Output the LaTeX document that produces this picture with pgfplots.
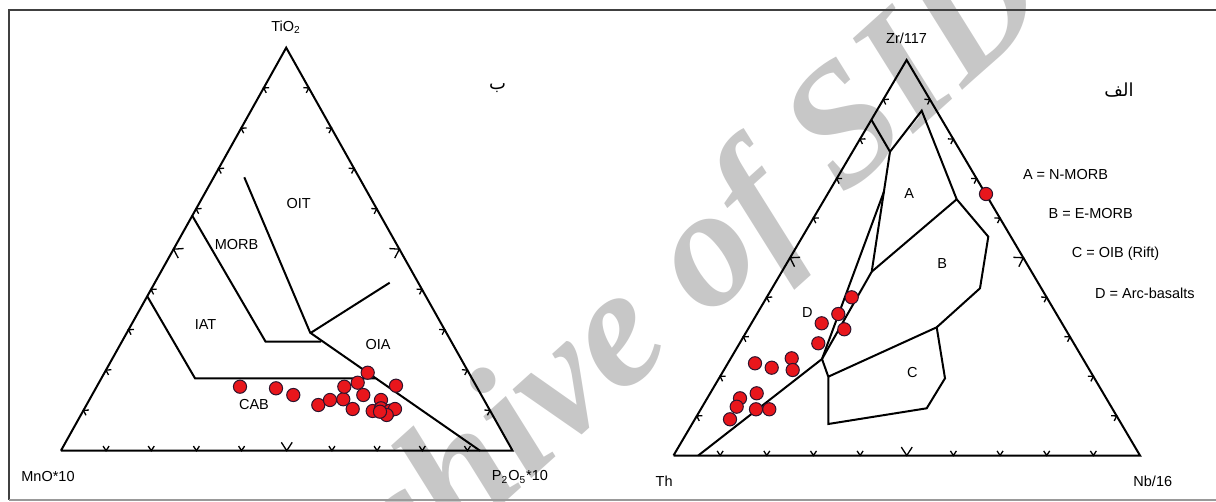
\documentclass[border=0pt]{standalone}
\usepackage{pgfplots}
\pgfplotsset{compat=1.18}
\usepackage{fontspec}
\setmainfont{Liberation Sans}
\newfontfamily\arabicfont[Script=Arabic]{DejaVu Sans}
\newfontfamily\wmfont{Liberation Serif}
\TeXXeTstate=1
\definecolor{ptred}{RGB}{232,22,28}
\definecolor{ptedge}{RGB}{45,20,45}
\begin{document}
\begin{tikzpicture}
% watermark (behind everything)
\begin{scope}[x=0.5pt,y=-0.5pt,shift={(0pt,251pt)}]
\node[overlay, rotate=42, text=black!22, font=\wmfont\bfseries\itshape\fontsize{85}{85}\selectfont] at (634,330) {Archive of SID};
\end{scope}
\begin{axis}[scale only axis, width=608pt, height=251pt,
  xmin=0, xmax=1216, ymin=0, ymax=502, y dir=reverse,
  hide axis, clip=false,
  fl/.style={black, solid, line width=1pt, mark=none},
  pts/.style={only marks, mark=*, mark size=3.3pt, mark options={fill=ptred, draw=ptedge, solid, line width=0.5pt}},
  nodes={font=\fontsize{7.25}{8.7}\selectfont, inner sep=0pt}]
\addplot[draw=none, forget plot] coordinates {(0,0) (1216,502)};
% frame
\addplot[black!75, solid, line width=1pt, mark=none] coordinates {(1216,10) (8.5,10) (8.5,500)};
\addplot[black!40, solid, line width=1pt, mark=none] coordinates {(8.5,500) (1216,500)};
% ---------- left ternary: TiO2 - MnO*10 - P2O5*10 ----------
\addplot[fl] coordinates {(60.9,450.7) (512.6,450.7) (286.2,47.7) (60.9,450.7)};
\addplot[fl] coordinates {(244.3,177.3) (310.2,332.7) (480,450.7)};
\addplot[fl] coordinates {(311,332.7) (389.7,282.7)};
\addplot[fl] coordinates {(192.4,216) (265.6,341.7) (321,341.7)};
\addplot[fl] coordinates {(147.5,296.7) (195,378.3) (375.5,378.3)};
\addplot[pts] coordinates {
(240,386.7) (276,388.3) (293.3,395) (318.3,405) (330,400) (343.3,399.3)
(344.3,386.7) (357.7,382.7) (367.7,372.7) (363.3,395) (352.7,409)
(396,385.7) (381,400) (372.7,411) (381,408.3) (390,410.7) (395,409)
(386.7,415) (380,411.7)};
\node at (axis cs:286,27) {TiO\textsubscript{2}};
\node at (axis cs:48,477) {MnO*10};
\node at (axis cs:520,477) {P\textsubscript{2}O\textsubscript{5}*10};
\node at (axis cs:298.6,203.3) {OIT};
\node at (axis cs:236.5,245) {MORB};
\node at (axis cs:205.5,325) {IAT};
\node at (axis cs:378,345) {OIA};
\node at (axis cs:254,405) {CAB};
\node[font=\arabicfont\fontsize{9}{10}\selectfont] at (axis cs:497.5,88) {\beginR ب\endR};
% ---------- right ternary: Zr/117 - Th - Nb/16 ----------
\addplot[fl] coordinates {(673.5,455.5) (1140,455.5) (906.6,60) (673.5,455.5)};
\addplot[fl] coordinates {(871.5,120) (890,151.7) (921.7,110.7) (956.7,199.3) (988.3,236.7) (980,288.3) (936.7,327.3)};
\addplot[fl] coordinates {(890,151.7) (871.7,271.7) (822,359)};
\addplot[fl] coordinates {(884.2,191) (822,359)};
\addplot[fl] coordinates {(822,359) (698.3,455.5)};
\addplot[fl] coordinates {(956.7,199.3) (871.7,271.7)};
\addplot[fl] coordinates {(822,359) (828.3,376.7) (828.3,424) (926.7,408.3) (945,378.3) (936.7,327.3) (828.3,376.7)};
\addplot[pts] coordinates {
(851.7,297.3) (838.3,314) (821.7,323.3) (844.3,329.3) (818.3,343.3)
(755,363.3) (771.7,367.7) (791.7,358.3) (792.7,370)
(756.7,393.3) (740,398.3) (736.7,406.7) (756,409.3) (769.3,409.3) (730,419.3)
(986,194)};
\node at (axis cs:906.6,38.3) {Zr/117};
\node at (axis cs:664.2,481.7) {Th};
\node at (axis cs:1152.8,481.7) {Nb/16};
\node at (axis cs:909.3,193.3) {A};
\node at (axis cs:942.3,264) {B};
\node at (axis cs:912.3,372.3) {C};
\node at (axis cs:807.3,312.3) {D};
\node at (axis cs:1065.5,175) {A = N-MORB};
\node at (axis cs:1090.7,213.3) {B = E-MORB};
\node at (axis cs:1115.5,254) {C = OIB (Rift)};
\node at (axis cs:1145,293.3) {D = Arc-basalts};
\node[font=\arabicfont\fontsize{9}{10}\selectfont] at (axis cs:1119,90) {\beginR الف\endR};
\end{axis}
% ternary tick chevrons
\begin{scope}[x=0.5pt,y=-0.5pt,shift={(0pt,251pt)}, line width=0.65pt]
\foreach \ax/\ay/\bx/\by in {60.9/450.7/512.6/450.7, 512.6/450.7/286.2/47.7, 286.2/47.7/60.9/450.7,
  673.5/455.5/1140/455.5, 1140/455.5/906.6/60, 906.6/60/673.5/455.5}{
  \pgfmathsetmacro\ux{(\bx-\ax)/veclen(\bx-\ax,\by-\ay)}
  \pgfmathsetmacro\uy{(\by-\ay)/veclen(\bx-\ax,\by-\ay)}
  \foreach \t in {1,...,9}{
    \pgfmathsetmacro\px{\ax+\t*(\bx-\ax)/10}
    \pgfmathsetmacro\py{\ay+\t*(\by-\ay)/10}
    \pgfmathsetmacro\s{\t==5 ? 10 : 5.5}
    \draw ({\px+\s*(0.839*\uy+0.545*\ux)},{\py+\s*(0.545*\uy-0.839*\ux)}) -- (\px,\py)
      -- ({\px+\s*(0.839*\uy-0.545*\ux)},{\py-\s*(0.839*\ux+0.545*\uy)});
  }
}
\end{scope}
\pgfresetboundingbox
\path[use as bounding box] (0,0) rectangle (608pt,251pt);
\end{tikzpicture}
\end{document}
